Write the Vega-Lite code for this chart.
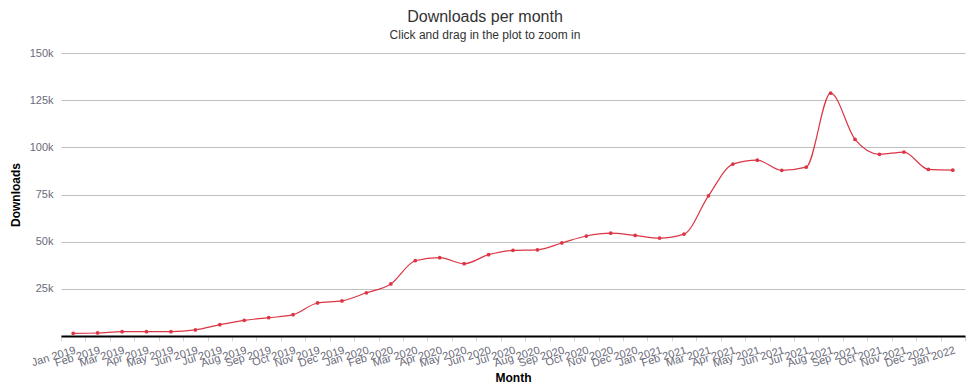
{
  "$schema": "https://vega.github.io/schema/vega-lite/v6.json",
  "autosize": "none",
  "width": 904,
  "height": 283,
  "padding": {"left": 61, "top": 53, "right": 11, "bottom": 51},
  "background": "white",
  "title": {
    "text": "Downloads per month",
    "subtitle": "Click and drag in the plot to zoom in",
    "anchor": "middle",
    "frame": "group",
    "dx": -28,
    "offset": 6,
    "font": "Liberation Sans",
    "fontSize": 16,
    "fontWeight": "normal",
    "color": "#333333",
    "subtitleFont": "Liberation Sans",
    "subtitleFontSize": 12,
    "subtitleColor": "#333333",
    "subtitlePadding": 5
  },
  "config": {
    "view": {"stroke": null},
    "font": "Liberation Sans"
  },
  "data": {
    "values": [
      {"month": "Jan 2019", "downloads": 1400},
      {"month": "Feb 2019", "downloads": 1600},
      {"month": "Mar 2019", "downloads": 2300},
      {"month": "Apr 2019", "downloads": 2300},
      {"month": "May 2019", "downloads": 2300},
      {"month": "Jun 2019", "downloads": 3200},
      {"month": "Jul 2019", "downloads": 6000},
      {"month": "Aug 2019", "downloads": 8300},
      {"month": "Sep 2019", "downloads": 9700},
      {"month": "Oct 2019", "downloads": 11300},
      {"month": "Nov 2019", "downloads": 17500},
      {"month": "Dec 2019", "downloads": 18600},
      {"month": "Jan 2020", "downloads": 22900},
      {"month": "Feb 2020", "downloads": 27600},
      {"month": "Mar 2020", "downloads": 39900},
      {"month": "Apr 2020", "downloads": 41500},
      {"month": "May 2020", "downloads": 38300},
      {"month": "Jun 2020", "downloads": 43100},
      {"month": "Jul 2020", "downloads": 45400},
      {"month": "Aug 2020", "downloads": 45700},
      {"month": "Sep 2020", "downloads": 49300},
      {"month": "Oct 2020", "downloads": 53000},
      {"month": "Nov 2020", "downloads": 54500},
      {"month": "Dec 2020", "downloads": 53300},
      {"month": "Jan 2021", "downloads": 51900},
      {"month": "Feb 2021", "downloads": 54000},
      {"month": "Mar 2021", "downloads": 74300},
      {"month": "Apr 2021", "downloads": 91100},
      {"month": "May 2021", "downloads": 93200},
      {"month": "Jun 2021", "downloads": 87800},
      {"month": "Jul 2021", "downloads": 89500},
      {"month": "Aug 2021", "downloads": 128700},
      {"month": "Sep 2021", "downloads": 104200},
      {"month": "Oct 2021", "downloads": 96300},
      {"month": "Nov 2021", "downloads": 97500},
      {"month": "Dec 2021", "downloads": 88300},
      {"month": "Jan 2022", "downloads": 87900}
    ]
  },
  "encoding": {
    "x": {
      "field": "month",
      "type": "ordinal",
      "sort": null,
      "bandPosition": 0.5,
      "scale": {"type": "band", "paddingInner": 0, "paddingOuter": 0},
      "axis": {
        "title": "Month",
        "titleFont": "Liberation Sans",
        "titleFontSize": 12,
        "titleFontWeight": "bold",
        "titleColor": "#000000",
        "titleY": 45,
        "titleBaseline": "alphabetic",
        "labelAngle": -17,
        "labelAlign": "right",
        "labelBaseline": "top",
        "labelPadding": 3,
        "labelFontSize": 11,
        "labelColor": "#6a6a78",
        "labelOverlap": false,
        "labelBound": false,
        "tickBand": "extent",
        "tickColor": "#ccd6eb",
        "tickSize": 5,
        "domainColor": "#000000",
        "domainWidth": 2,
        "grid": false
      }
    },
    "y": {
      "field": "downloads",
      "type": "quantitative",
      "scale": {"domain": [0, 150000], "nice": false},
      "axis": {
        "title": "Downloads",
        "titleFont": "Liberation Sans",
        "titleFontSize": 12,
        "titleFontWeight": "bold",
        "titleColor": "#000000",
        "titleAngle": -90,
        "titleX": -46,
        "titleY": 141.5,
        "titleAlign": "center",
        "titleBaseline": "middle",
        "values": [0, 25000, 50000, 75000, 100000, 125000, 150000],
        "labelExpr": "datum.value == 0 ? '' : format(datum.value / 1000, 'd') + 'k'",
        "labelFontSize": 11,
        "labelColor": "#6a6a78",
        "labelPadding": 8,
        "domain": false,
        "ticks": false,
        "grid": true,
        "gridColor": "#c0c0c0",
        "gridWidth": 1
      }
    }
  },
  "layer": [
    {
      "mark": {"type": "line", "interpolate": "monotone", "color": "#dc3545", "strokeWidth": 1.2}
    },
    {
      "mark": {"type": "point", "filled": true, "color": "#dc3545", "size": 14, "opacity": 1}
    }
  ]
}
